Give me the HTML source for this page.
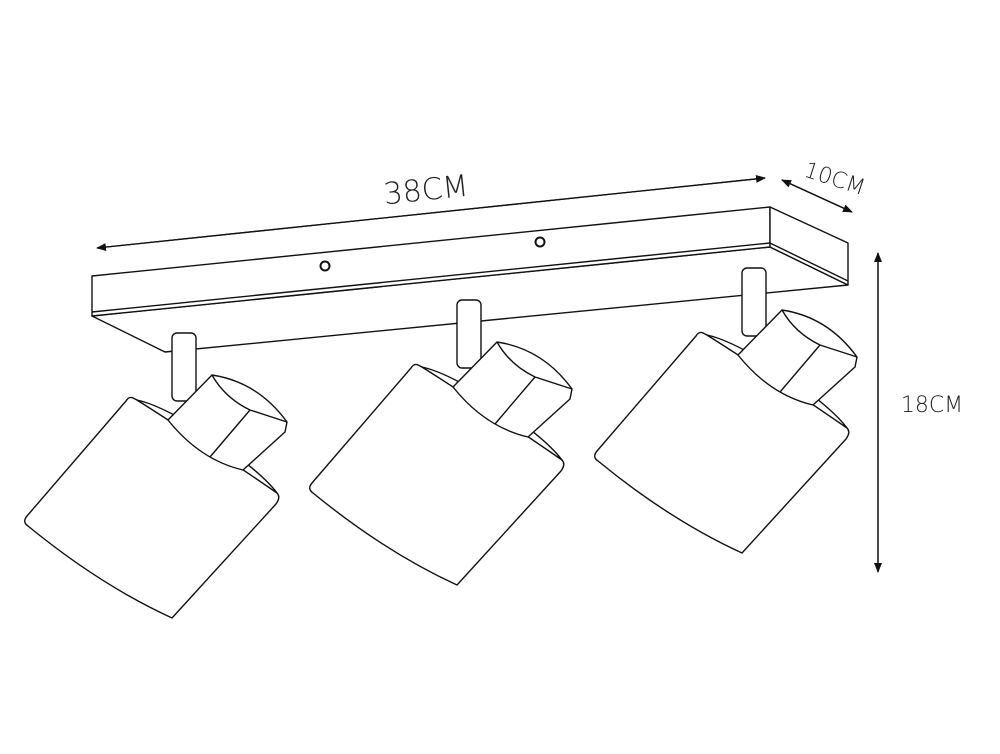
<!DOCTYPE html>
<html><head><style>
html,body{margin:0;padding:0;background:#fff;}
svg{display:block;}
text{font-family:"DejaVu Sans","Liberation Sans",sans-serif;font-weight:300;fill:#222;}
</style></head><body>
<svg width="1000" height="754" viewBox="0 0 1000 754" xmlns="http://www.w3.org/2000/svg">
<defs>
<marker id="ar" markerWidth="10" markerHeight="8" refX="9" refY="4" orient="auto" markerUnits="userSpaceOnUse">
<path d="M0,0 L10,4 L0,8 Z" fill="#111"/>
</marker>
<g id="spot" fill="#fff" stroke="#111" stroke-width="1.4" stroke-linejoin="round">
  <rect x="172" y="333" width="24" height="68" rx="5"/>
  <path d="M133,398 Q129,396 126,401 L27,516 Q22,522 28,526 Q100,585 172,618 L276,504 Q281,497 277,493 Q220,450 137,400 Z"/>
  <path d="M137,400 Q200,440 277,493 Q260,470 200,430 Q160,405 137,400 Z"/>
  <path d="M168,420 L212,375 Q258,382 287,422 L285,432 L243,470 Q200,460 168,420 Z"/>
  <path d="M212,375 Q225,398 250,410 L287,422" fill="none"/>
  <line x1="210" y1="457" x2="250" y2="410"/>
</g>
</defs>

<g fill="#fff" stroke="#111" stroke-width="1.4" stroke-linejoin="round">
  <path d="M92,316 L165,352 L848,285 L770,247 Z"/>
  <path d="M92,276 L770,207 L770,247 L92,316 Z"/>
  <path d="M770,207 L848,243 L848,285 L770,247 Z"/>
  <line x1="92" y1="312" x2="770" y2="243"/>
  <line x1="770" y1="243" x2="848" y2="281"/>
</g>
<circle cx="325" cy="266" r="4.5" fill="#fff" stroke="#111" stroke-width="2"/>
<circle cx="540" cy="242" r="4.5" fill="#fff" stroke="#111" stroke-width="2"/>

<use href="#spot"/>
<use href="#spot" transform="translate(285,-33)"/>
<use href="#spot" transform="translate(570,-65)"/>

<line x1="765" y1="178" x2="97" y2="248" stroke="#111" stroke-width="1.3" marker-end="url(#ar)"/>
<line x1="97" y1="248" x2="765" y2="178" stroke="#111" stroke-width="1.3" marker-end="url(#ar)"/>
<text x="426" y="200" font-size="30" text-anchor="middle" transform="rotate(-6 426 190)">38CM</text>

<line x1="852" y1="212" x2="782" y2="180" stroke="#111" stroke-width="1.3" marker-end="url(#ar)"/>
<line x1="782" y1="180" x2="852" y2="212" stroke="#111" stroke-width="1.3" marker-end="url(#ar)"/>
<text x="835" y="186" font-size="22" text-anchor="middle" transform="rotate(18 835 178)">10CM</text>

<line x1="878" y1="572" x2="878" y2="253" stroke="#111" stroke-width="1.3" marker-end="url(#ar)"/>
<line x1="878" y1="253" x2="878" y2="572" stroke="#111" stroke-width="1.3" marker-end="url(#ar)"/>
<text x="932" y="412" font-size="22" text-anchor="middle">18CM</text>
</svg>
</body></html>
